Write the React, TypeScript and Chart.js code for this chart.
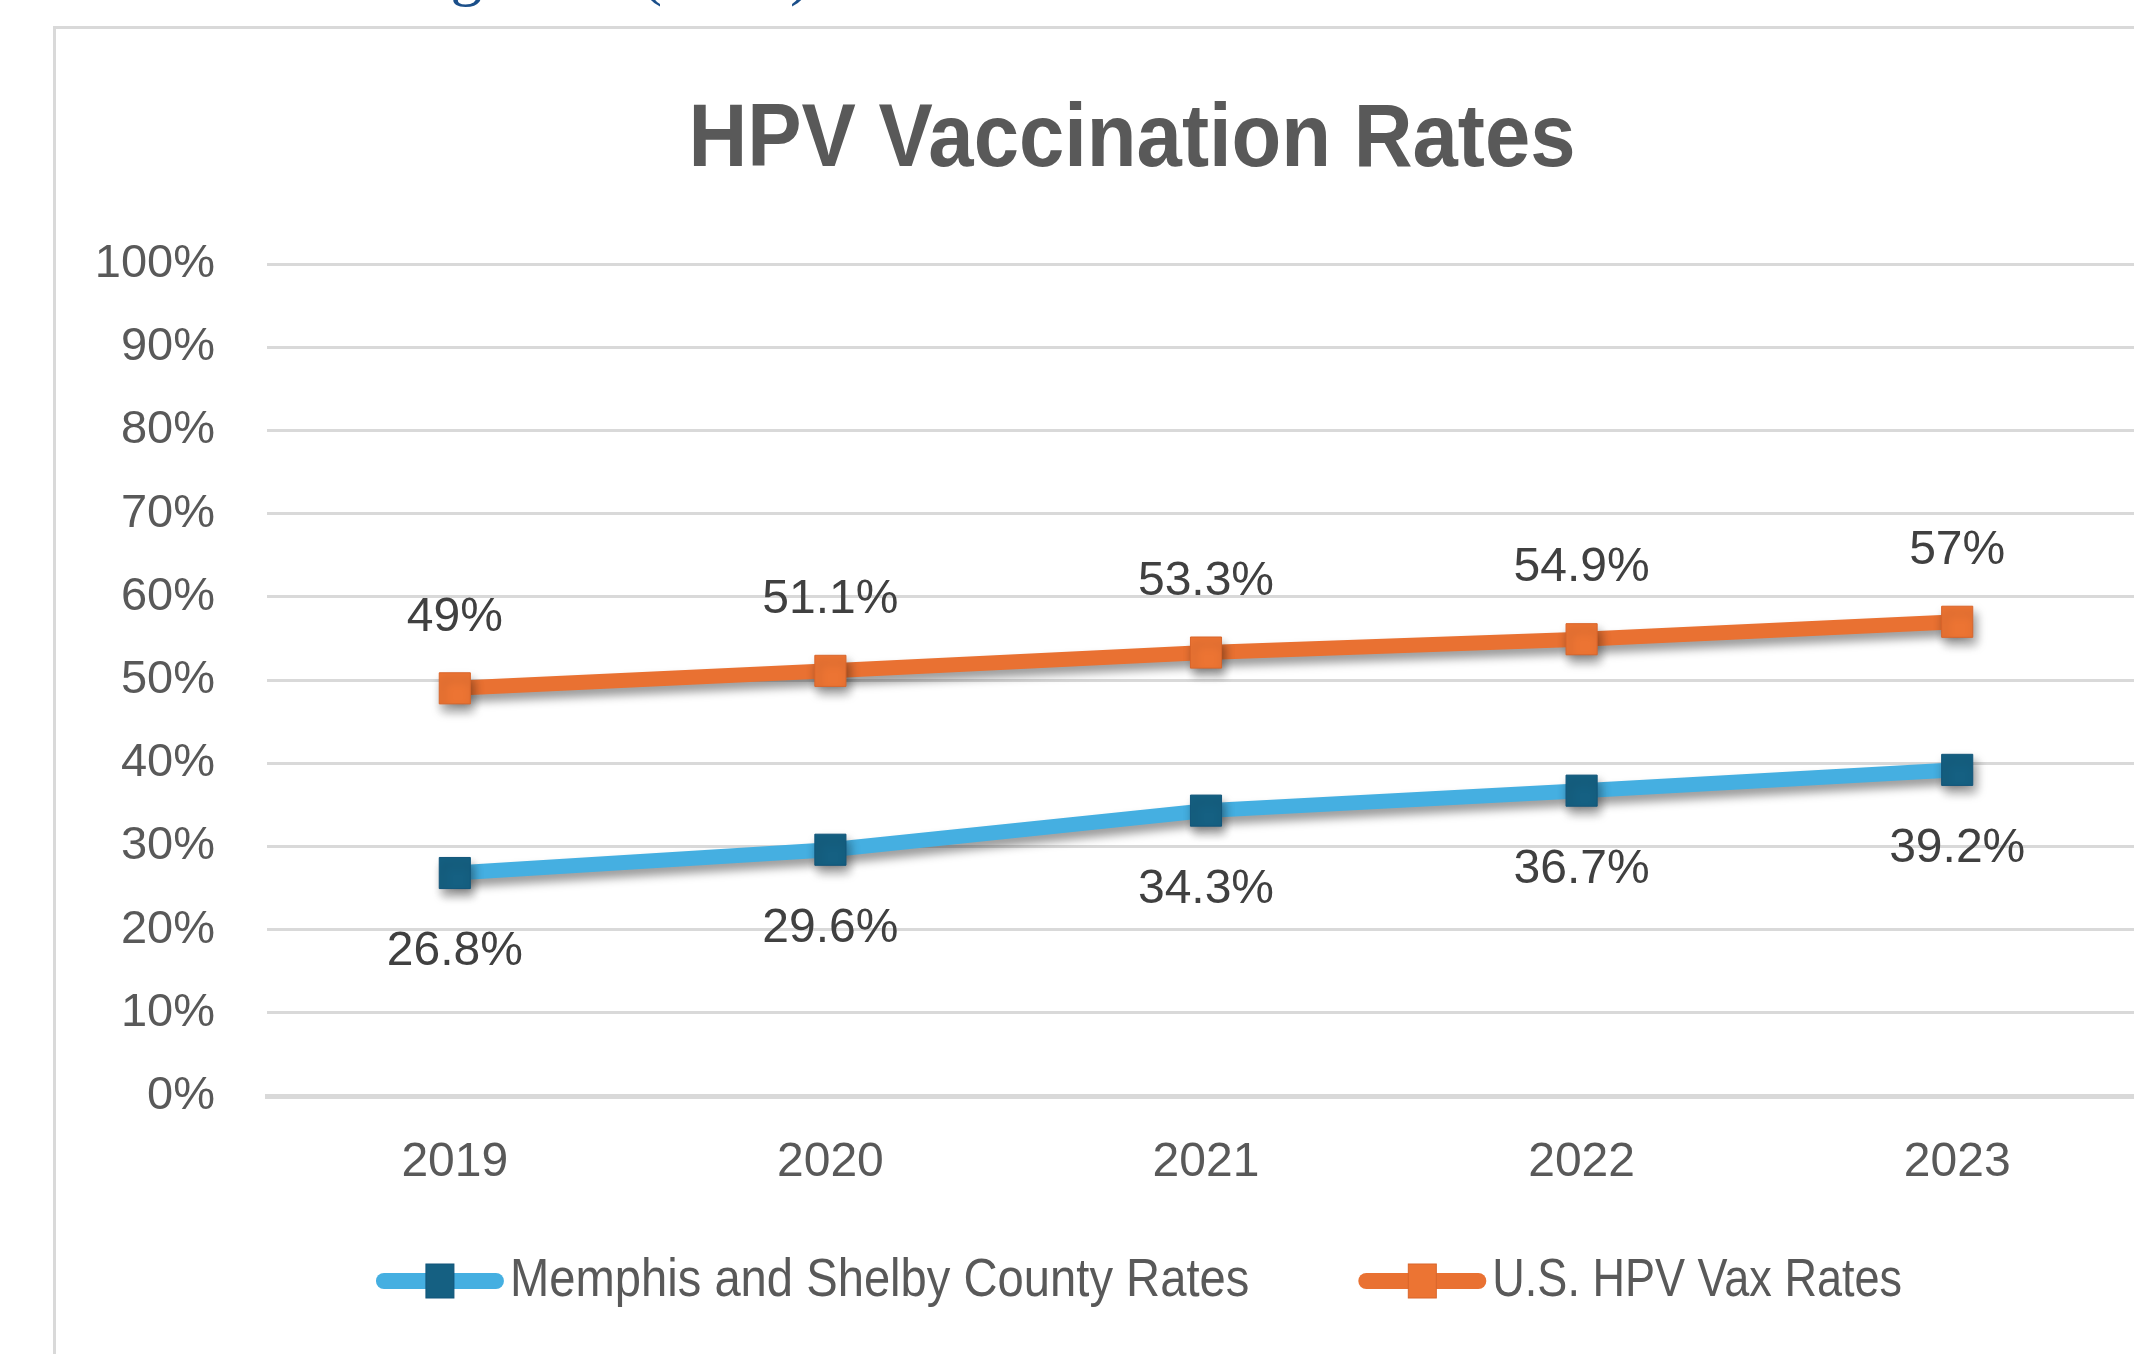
import React, { useEffect, useRef } from 'react';
import { Chart, registerables } from 'chart.js';

Chart.register(...registerables);

// ---------- data ----------
const TITLE = 'HPV Vaccination Rates';
const SOURCE_NOTE = 'Langevard (2024).';
const YEARS = ['2019', '2020', '2021', '2022', '2023'];
const MEMPHIS_LABEL = 'Memphis and Shelby County Rates';
const US_LABEL = 'U.S. HPV Vax Rates';
const MEMPHIS_RATES = [26.8, 29.6, 34.3, 36.7, 39.2];
const US_RATES = [49, 51.1, 53.3, 54.9, 57];
const Y_TICKS = [0, 10, 20, 30, 40, 50, 60, 70, 80, 90, 100];

// ---------- style ----------
const FONT = '"Liberation Sans", Arial, Helvetica, sans-serif';
const BLUE_LINE = '#45AFE1';
const BLUE_MARKER = '#156082';
const BLUE_MARKER_BORDER = '#11557A';
const ORANGE_LINE = '#E97132';
const ORANGE_MARKER = '#EC7433';
const ORANGE_MARKER_BORDER = '#D9652B';
const AXIS_TEXT = '#595959';
const LABEL_TEXT = '#404040';
const GRID = '#D9D9D9';

const CANVAS_W = 2112;
const CANVAS_H = 1325;

const shadowPlugin = {
  id: 'lineShadow',
  beforeDatasetsDraw(chart: any) {
    const ctx = chart.ctx;
    ctx.save();
    ctx.shadowColor = 'rgba(0,0,0,0.4)';
    ctx.shadowBlur = 10;
    ctx.shadowOffsetX = 3;
    ctx.shadowOffsetY = 7;
  },
  afterDatasetsDraw(chart: any) {
    chart.ctx.restore();
  },
};

const decorPlugin = {
  id: 'decor',
  afterDraw(chart: any, _args: any, opts: any) {
    const ctx = chart.ctx;
    // value labels
    ctx.save();
    ctx.font = `48px ${FONT}`;
    ctx.fillStyle = LABEL_TEXT;
    ctx.textAlign = 'center';
    ctx.textBaseline = 'middle';
    chart.data.datasets.forEach((ds: any, di: number) => {
      const meta = chart.getDatasetMeta(di);
      const off = opts.offsets[di];
      meta.data.forEach((pt: any, i: number) => {
        ctx.fillText(`${ds.data[i]}%`, pt.x, pt.y + off);
      });
    });
    ctx.restore();

    // title (horizontally condensed)
    ctx.save();
    ctx.font = `bold 89px ${FONT}`;
    const tw = ctx.measureText(TITLE).width;
    const sx = opts.titleWidth / tw;
    ctx.translate(opts.titleX, opts.titleBaseline);
    ctx.scale(sx, 1);
    ctx.fillStyle = AXIS_TEXT;
    ctx.textAlign = 'center';
    ctx.textBaseline = 'alphabetic';
    ctx.fillText(TITLE, 0, 0);
    ctx.restore();

    // legend
    ctx.save();
    ctx.font = `53px ${FONT}`;
    const lineLen = 128;
    const gapText = 6;
    const itemGap = 109;
    const items = chart.data.datasets.map((ds: any, di: number) => ({
      label: ds.label,
      line: ds.borderColor,
      fill: ds.pointBackgroundColor,
      border: ds.pointBorderColor,
      cond: opts.legendCondense[di],
      w: lineLen + gapText + ctx.measureText(ds.label).width * opts.legendCondense[di],
    }));
    const total = items.reduce((a: number, it: any) => a + it.w, 0) + itemGap * (items.length - 1);
    let x = opts.legendX - total / 2;
    const y = opts.legendY;
    items.forEach((it: any) => {
      ctx.strokeStyle = it.line;
      ctx.lineWidth = 16;
      ctx.lineCap = 'round';
      ctx.beginPath();
      ctx.moveTo(x + 8, y);
      ctx.lineTo(x + lineLen - 8, y);
      ctx.stroke();
      ctx.fillStyle = it.fill;
      ctx.strokeStyle = it.border;
      ctx.lineWidth = 1;
      ctx.fillRect(x + lineLen / 2 - 14, y - 17, 28, 34);
      ctx.strokeRect(x + lineLen / 2 - 14, y - 17, 28, 34);
      ctx.save();
      ctx.translate(x + lineLen + gapText, y);
      ctx.scale(it.cond, 1);
      ctx.fillStyle = AXIS_TEXT;
      ctx.textAlign = 'left';
      ctx.textBaseline = 'middle';
      ctx.fillText(it.label, 0, 0);
      ctx.restore();
      x += it.w + itemGap;
    });
    ctx.restore();
  },
};

export default function App() {
  const ref = useRef<HTMLCanvasElement | null>(null);

  useEffect(() => {
    if (!ref.current) return;
    const chart = new Chart(ref.current, {
      type: 'line',
      data: {
        labels: YEARS,
        datasets: [
          {
            label: MEMPHIS_LABEL,
            data: MEMPHIS_RATES,
            borderColor: BLUE_LINE,
            backgroundColor: BLUE_LINE,
            borderWidth: 15,
            borderCapStyle: 'round',
            borderJoinStyle: 'round',
            tension: 0,
            pointStyle: 'rect',
            pointRadius: 22,
            pointBackgroundColor: BLUE_MARKER,
            pointBorderColor: BLUE_MARKER_BORDER,
            pointBorderWidth: 1,
            clip: false,
          },
          {
            label: US_LABEL,
            data: US_RATES,
            borderColor: ORANGE_LINE,
            backgroundColor: ORANGE_LINE,
            borderWidth: 15,
            borderCapStyle: 'round',
            borderJoinStyle: 'round',
            tension: 0,
            pointStyle: 'rect',
            pointRadius: 22,
            pointBackgroundColor: ORANGE_MARKER,
            pointBorderColor: ORANGE_MARKER_BORDER,
            pointBorderWidth: 1,
            clip: false,
          },
        ],
      } as any,
      options: {
        responsive: false,
        animation: false,
        devicePixelRatio: 1,
        layout: { padding: { top: 235, right: 12.5, bottom: 0, left: 0 } },
        plugins: {
          legend: { display: false },
          title: { display: false },
          tooltip: { enabled: false },
          decor: {
            offsets: [79, -71],
            titleWidth: 887,
            titleX: 1076,
            titleBaseline: 137,
            legendX: 1083,
            legendY: 1252,
            legendCondense: [0.89, 0.85],
          },
        } as any,
        scales: {
          x: {
            type: 'category',
            offset: true,
            grid: { display: false, drawTicks: false },
            border: { display: true, color: GRID, width: 5 },
            ticks: {
              font: { family: FONT, size: 48 },
              color: AXIS_TEXT,
              padding: 38,
              maxRotation: 0,
              autoSkip: false,
            },
            afterFit: (s: any) => {
              s.height = 258;
            },
          },
          y: {
            min: 0,
            max: 100,
            grid: { color: GRID, lineWidth: 3, drawTicks: false },
            border: { display: false },
            ticks: {
              font: { family: FONT, size: 47 },
              color: AXIS_TEXT,
              padding: 52,
              callback: (v: any) => `${v}%`,
            },
            afterBuildTicks: (s: any) => {
              s.ticks = Y_TICKS.map((v) => ({ value: v }));
            },
            afterFit: (s: any) => {
              s.width = 211;
            },
          },
        } as any,
      },
      plugins: [shadowPlugin, decorPlugin],
    });
    return () => chart.destroy();
  }, []);

  return (
    <div
      style={{
        position: 'absolute',
        left: 0,
        top: 0,
        width: '2134px',
        height: '1354px',
        overflow: 'hidden',
        background: '#ffffff',
      }}
    >
      <div
        style={{
          position: 'absolute',
          left: '351px',
          top: '-60px',
          font: '64px "Liberation Serif", "Times New Roman", serif',
          lineHeight: '64px',
          color: '#1B4F8A',
          whiteSpace: 'nowrap',
        }}
      >
        {SOURCE_NOTE}
      </div>
      <div
        style={{
          position: 'absolute',
          left: '53px',
          top: '26px',
          width: '2200px',
          height: '1400px',
          border: '3px solid #D9D9D9',
          background: '#ffffff',
        }}
      >
        <canvas
          ref={ref}
          width={CANVAS_W}
          height={CANVAS_H}
          style={{ display: 'block', width: `${CANVAS_W}px`, height: `${CANVAS_H}px` }}
        />
      </div>
    </div>
  );
}
